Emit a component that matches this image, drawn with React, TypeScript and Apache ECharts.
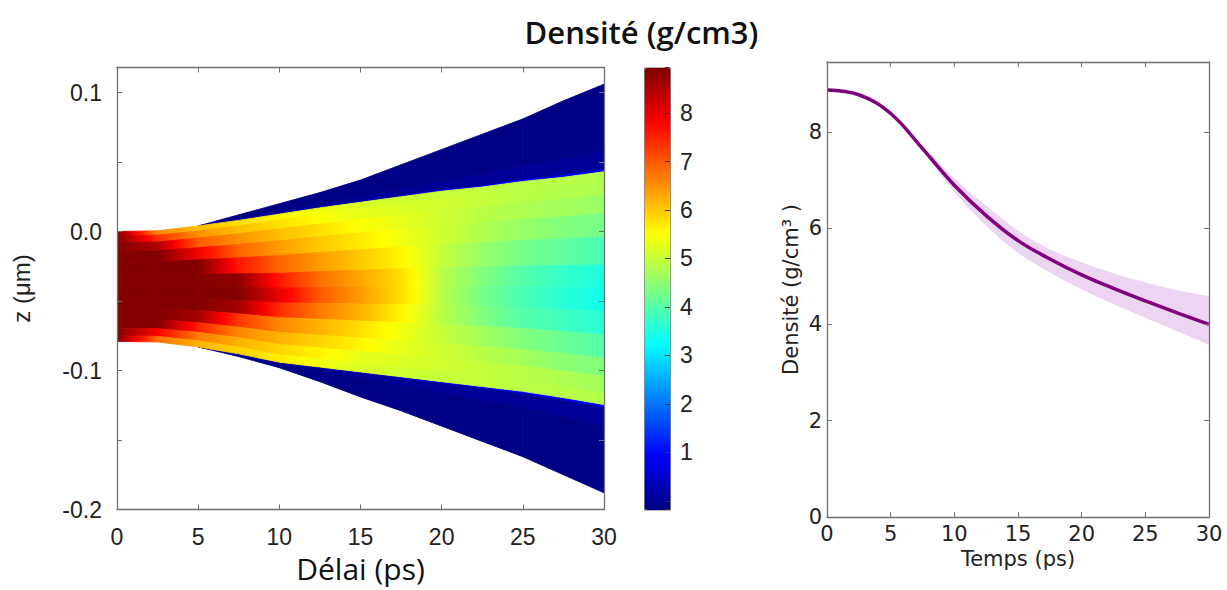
import React, { useEffect, useRef } from 'react';
import * as echarts from 'echarts';

// ---------- Left panel: density map z(µm) vs delay (ps) ----------
const HEAT_TIMES = [0, 2.5, 5, 7.5, 10, 12.5, 15, 17.5, 20, 22.5, 25, 27.5, 30];
// outer (ablated, low density) envelope
const ENVELOPE_TOP = [0, 0.0005, 0.004, 0.012, 0.02, 0.028, 0.037, 0.048, 0.059, 0.07, 0.081, 0.094, 0.106];
const ENVELOPE_BOTTOM = [-0.079, -0.0795, -0.083, -0.09, -0.098, -0.108, -0.119, -0.129, -0.14, -0.151, -0.162, -0.175, -0.188];
// dense core boundaries
const CORE_TOP = [0, 0.0005, 0.004, 0.008, 0.0125, 0.017, 0.021, 0.025, 0.029, 0.032, 0.036, 0.039, 0.043];
const CORE_BOTTOM = [-0.079, -0.0795, -0.083, -0.088, -0.094, -0.0975, -0.101, -0.1045, -0.108, -0.1115, -0.115, -0.1195, -0.1245];
// core layers (fractions of the core thickness, top to bottom)
const CORE_LAYER_FRACTIONS = [0, 0.04, 0.1, 0.18, 0.28, 0.4, 0.5, 0.6, 0.7, 0.8, 0.88, 0.95, 1];
// one value per HEAT_TIMES entry (g/cm3)
const CORE_LAYER_1 = [8.9, 6.6, 6.1, 5.8, 5.6, 5.4, 5.2, 5.1, 5.0, 5.0, 4.9, 4.9, 4.85];
const CORE_LAYER_2 = [8.9, 7.4, 6.5, 6.1, 5.8, 5.5, 5.3, 5.2, 5.1, 5.0, 4.9, 4.85, 4.8];
const CORE_LAYER_3 = [8.9, 8.5, 7.0, 6.5, 6.1, 5.8, 5.5, 5.3, 5.1, 4.9, 4.8, 4.7, 4.6];
const CORE_LAYER_4 = [8.9, 8.9, 7.9, 6.9, 6.4, 6.0, 5.7, 5.4, 5.1, 4.8, 4.6, 4.4, 4.3];
const CORE_LAYER_5 = [8.9, 8.9, 8.9, 7.6, 6.9, 6.4, 6.0, 5.6, 5.0, 4.6, 4.3, 4.1, 3.9];
const CORE_LAYER_6 = [8.9, 8.9, 8.9, 8.8, 7.6, 6.8, 6.3, 5.8, 4.9, 4.4, 4.0, 3.7, 3.5];
const CORE_LAYER_7 = [8.9, 8.9, 8.9, 8.9, 8.0, 7.0, 6.4, 5.8, 4.9, 4.3, 3.9, 3.6, 3.4];
const CORE_LAYER_8 = [8.9, 8.9, 8.9, 8.6, 7.4, 6.7, 6.2, 5.6, 4.9, 4.4, 4.0, 3.8, 3.6];
const CORE_LAYER_9 = [8.9, 8.9, 8.6, 7.3, 6.6, 6.2, 5.8, 5.4, 5.0, 4.7, 4.4, 4.2, 4.0];
const CORE_LAYER_10 = [8.9, 8.9, 7.5, 6.6, 6.2, 5.9, 5.6, 5.3, 5.1, 4.9, 4.7, 4.5, 4.4];
const CORE_LAYER_11 = [8.9, 7.8, 6.7, 6.2, 5.9, 5.6, 5.3, 5.2, 5.1, 5.0, 4.9, 4.8, 4.7];
const CORE_LAYER_12 = [8.9, 6.8, 6.2, 5.9, 5.7, 5.4, 5.2, 5.1, 5.0, 5.0, 4.9, 4.9, 4.85];
const CORE_LAYERS = [
  CORE_LAYER_1, CORE_LAYER_2, CORE_LAYER_3, CORE_LAYER_4, CORE_LAYER_5, CORE_LAYER_6,
  CORE_LAYER_7, CORE_LAYER_8, CORE_LAYER_9, CORE_LAYER_10, CORE_LAYER_11, CORE_LAYER_12,
];
// low-density outer layers (fraction of the outer region, from core edge outwards)
const OUTER_LAYER_FRACTIONS = [0, 0.04, 0.25, 1];
const OUTER_LAYER_VALUES = [0.85, 0.05, -0.12];

const COLORBAR_MIN = -0.18;
const COLORBAR_MAX = 8.94;
const COLORBAR_LABELS = [1, 2, 3, 4, 5, 6, 7, 8];
const JET = ['#00007F', '#0000FF', '#007FFF', '#00FFFF', '#7FFF7F', '#FFFF00', '#FF7F00', '#FF0000', '#7F0000'];

// ---------- Right panel: mean density vs time ----------
const CURVE_TIMES = [0, 2.5, 5, 7.5, 10, 12.5, 15, 17.5, 20, 22.5, 25, 27.5, 30];
const MEAN_DENSITY = [8.87, 8.77, 8.38, 7.65, 6.89, 6.26, 5.74, 5.36, 5.03, 4.75, 4.49, 4.24, 4.0];
const DENSITY_UPPER = [8.87, 8.77, 8.4, 7.72, 7.03, 6.47, 5.95, 5.56, 5.29, 5.06, 4.87, 4.71, 4.59];
const DENSITY_LOWER = [8.87, 8.77, 8.37, 7.6, 6.75, 6.05, 5.49, 5.08, 4.73, 4.42, 4.14, 3.86, 3.58];

const jet = (v: number) =>
  echarts.color.lerp(Math.max(0, Math.min(1, (v - COLORBAR_MIN) / (COLORBAR_MAX - COLORBAR_MIN))), JET) as string;

function buildCells() {
  const cells: number[][] = [];
  const lerpZ = (k: number, a: number[], b: number[], f: number) => a[k] + (b[k] - a[k]) * f;
  for (let i = 0; i < HEAT_TIMES.length - 1; i++) {
    const t0 = HEAT_TIMES[i];
    const t1 = HEAT_TIMES[i + 1];
    for (const [coreEdge, envEdge] of [[CORE_TOP, ENVELOPE_TOP], [CORE_BOTTOM, ENVELOPE_BOTTOM]]) {
      for (let j = 0; j < OUTER_LAYER_VALUES.length; j++) {
        const f0 = OUTER_LAYER_FRACTIONS[j];
        const f1 = OUTER_LAYER_FRACTIONS[j + 1];
        const a0 = lerpZ(i, coreEdge, envEdge, f0), b0 = lerpZ(i, coreEdge, envEdge, f1);
        const a1 = lerpZ(i + 1, coreEdge, envEdge, f0), b1 = lerpZ(i + 1, coreEdge, envEdge, f1);
        if (Math.abs(a0 - b0) < 1e-6 && Math.abs(a1 - b1) < 1e-6) continue;
        cells.push([t0, t1, a0, b0, a1, b1, OUTER_LAYER_VALUES[j], OUTER_LAYER_VALUES[j]]);
      }
    }
    for (let j = 0; j < CORE_LAYERS.length; j++) {
      const f0 = CORE_LAYER_FRACTIONS[j];
      const f1 = CORE_LAYER_FRACTIONS[j + 1];
      cells.push([
        t0, t1,
        lerpZ(i, CORE_TOP, CORE_BOTTOM, f0), lerpZ(i, CORE_TOP, CORE_BOTTOM, f1),
        lerpZ(i + 1, CORE_TOP, CORE_BOTTOM, f0), lerpZ(i + 1, CORE_TOP, CORE_BOTTOM, f1),
        CORE_LAYERS[j][i], CORE_LAYERS[j][i + 1],
      ]);
    }
  }
  return cells;
}

const FRAME = '#707070';
const LEFT_FONT = 'Liberation Sans';
const RIGHT_FONT = 'DejaVu Sans';

function frameAxis(extra: any) {
  return {
    type: 'value',
    axisLine: { show: true, onZero: false, lineStyle: { color: FRAME, width: 1.3 } },
    axisTick: { show: true, inside: true, length: 5, lineStyle: { color: FRAME } },
    splitLine: { show: false },
    z: 5,
    ...extra,
  };
}

function buildOption() {
  const cells = buildCells();
  const zFormatter = (v: number) => {
    const k = Math.round(v * 100);
    if (k % 10 !== 0) return '';
    return (k / 100).toFixed(1);
  };
  return {
    animation: false,
    backgroundColor: '#ffffff',
    graphic: [
      {
        type: 'text',
        x: 641.5,
        y: 32,
        style: {
          text: 'Densité (g/cm3)',
          fill: '#111',
          font: '600 31px "Open Sans"',
          textAlign: 'center',
          textVerticalAlign: 'middle',
        },
      },
    ],
    grid: [
      { left: 117, top: 67.5, width: 487, height: 442 },
      { left: 644, top: 67.5, width: 26, height: 442 },
      { left: 827, top: 62, width: 382, height: 455 },
    ],
    visualMap: {
      type: 'continuous',
      seriesIndex: 0,
      dimension: 6,
      min: COLORBAR_MIN,
      max: COLORBAR_MAX,
      calculable: false,
      realtime: false,
      hoverLink: false,
      orient: 'vertical',
      left: 644,
      top: 67.5,
      itemWidth: 26,
      itemHeight: 442,
      padding: 0,
      borderWidth: 1,
      borderColor: FRAME,
      inRange: { color: JET },
    },
    xAxis: [
      frameAxis({
        gridIndex: 0, position: 'bottom', min: 0, max: 30, interval: 5,
        name: 'Délai (ps)', nameLocation: 'middle', nameGap: 42,
        nameTextStyle: { fontFamily: 'Open Sans', fontSize: 30, color: '#111' },
        axisLabel: { fontFamily: LEFT_FONT, fontSize: 23, color: '#222', margin: 16 },
      }),
      frameAxis({ gridIndex: 0, position: 'top', min: 0, max: 30, interval: 5, axisLabel: { show: false } }),
      { type: 'value', gridIndex: 1, min: 0, max: 1, show: false },
      frameAxis({
        gridIndex: 2, position: 'bottom', min: 0, max: 30, interval: 5,
        name: 'Temps (ps)', nameLocation: 'middle', nameGap: 28,
        nameTextStyle: { fontFamily: RIGHT_FONT, fontSize: 21, color: '#222' },
        axisLabel: { fontFamily: RIGHT_FONT, fontSize: 21, color: '#222', margin: 6 },
      }),
      frameAxis({ gridIndex: 2, position: 'top', min: 0, max: 30, interval: 5, axisLabel: { show: false } }),
    ],
    yAxis: [
      frameAxis({
        gridIndex: 0, position: 'left', min: -0.2, max: 0.118, interval: 0.05,
        name: 'z (μm)', nameLocation: 'middle', nameGap: 84,
        nameTextStyle: { fontFamily: LEFT_FONT, fontSize: 24, color: '#222' },
        axisLabel: { fontFamily: LEFT_FONT, fontSize: 23, color: '#222', margin: 15, formatter: zFormatter },
      }),
      frameAxis({ gridIndex: 0, position: 'right', min: -0.2, max: 0.118, interval: 0.05, axisLabel: { show: false } }),
      {
        type: 'value', gridIndex: 1, position: 'right', min: COLORBAR_MIN, max: COLORBAR_MAX,
        minInterval: 1, maxInterval: 1, z: 10,
        axisLine: { show: false, onZero: false },
        axisTick: { show: true, inside: true, length: 5, lineStyle: { color: '#333' } },
        splitLine: { show: false },
        axisLabel: {
          fontFamily: LEFT_FONT, fontSize: 23, color: '#222', margin: 10,
          formatter: (v: number) => (COLORBAR_LABELS.indexOf(v) >= 0 ? String(v) : ''),
        },
      },
      frameAxis({
        gridIndex: 2, position: 'left', min: 0, max: 9.45, interval: 2,
        name: 'Densité (g/cm³ )', nameLocation: 'middle', nameGap: 26,
        nameTextStyle: { fontFamily: RIGHT_FONT, fontSize: 21, color: '#222' },
        axisLabel: {
          fontFamily: RIGHT_FONT, fontSize: 21, color: '#222', margin: 5,
          formatter: (v: number) => (Number.isInteger(v) && v % 2 === 0 ? String(v) : ''),
        },
      }),
      frameAxis({ gridIndex: 2, position: 'right', min: 0, max: 9.45, interval: 2, axisLabel: { show: false } }),
    ],
    series: [
      {
        type: 'custom',
        name: 'Densité',
        xAxisIndex: 0,
        yAxisIndex: 0,
        clip: true,
        dimensions: ['t0', 't1', 'zTop0', 'zBot0', 'zTop1', 'zBot1', 'v0', 'v1'],
        encode: { x: [0, 1], y: [2, 3, 4, 5] },
        data: cells,
        renderItem: (params: any, api: any) => {
          const t0 = api.value(0);
          const t1 = api.value(1);
          const p1 = api.coord([t0, api.value(2)]);
          const p2 = api.coord([t1, api.value(4)]);
          const p3 = api.coord([t1, api.value(5)]);
          const p4 = api.coord([t0, api.value(3)]);
          const v0 = api.value(6);
          const v1 = api.value(7);
          const stops = [0, 0.2, 0.4, 0.6, 0.8, 1].map((f) => ({ offset: f, color: jet(v0 + (v1 - v0) * f) }));
          const grad = new echarts.graphic.LinearGradient(0, 0, 1, 0, stops);
          return {
            type: 'polygon',
            shape: { points: [p1, p2, p3, p4] },
            style: { fill: grad, stroke: grad, lineWidth: 0.9, lineJoin: 'round' },
          };
        },
      },
      {
        type: 'line',
        name: 'upper',
        xAxisIndex: 3,
        yAxisIndex: 3,
        smooth: 0.4,
        symbol: 'none',
        lineStyle: { width: 0, opacity: 0 },
        areaStyle: { color: '#ecd5f0', opacity: 1 },
        data: CURVE_TIMES.map((t, i) => [t, DENSITY_UPPER[i]]),
        z: 1,
      },
      {
        type: 'line',
        name: 'lower',
        xAxisIndex: 3,
        yAxisIndex: 3,
        smooth: 0.4,
        symbol: 'none',
        lineStyle: { width: 0, opacity: 0 },
        areaStyle: { color: '#ffffff', opacity: 1 },
        data: CURVE_TIMES.map((t, i) => [t, DENSITY_LOWER[i]]),
        z: 2,
      },
      {
        type: 'line',
        name: 'mean',
        xAxisIndex: 3,
        yAxisIndex: 3,
        smooth: 0.4,
        symbol: 'none',
        lineStyle: { color: '#800080', width: 3.5 },
        data: CURVE_TIMES.map((t, i) => [t, MEAN_DENSITY[i]]),
        z: 3,
      },
    ],
  };
}

export default function App() {
  const ref = useRef<HTMLDivElement>(null);
  useEffect(() => {
    if (!ref.current) return;
    const chart = echarts.init(ref.current, null, { renderer: 'svg' });
    chart.setOption(buildOption() as any);
    return () => chart.dispose();
  }, []);
  return (
    <div
      ref={ref}
      style={{ position: 'fixed', left: 0, top: 0, width: 1227, height: 590, background: '#fff' }}
    />
  );
}
